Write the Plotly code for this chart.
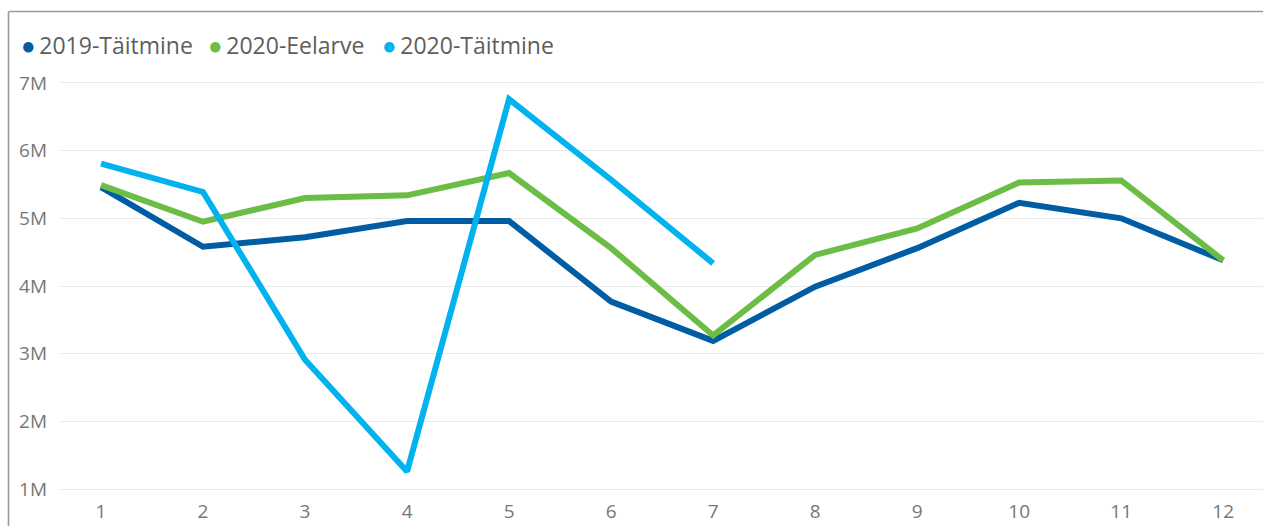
import plotly.graph_objects as go

months = list(range(1, 13))
month_labels = [str(m) for m in months]

series_names = ["2019-Täitmine", "2020-Eelarve", "2020-Täitmine"]
series_colors = ["#005DA3", "#6BBD45", "#00B2EE"]

v2019_taitmine = [5.46e6, 4.58e6, 4.72e6, 4.96e6, 4.96e6, 3.77e6, 3.19e6, 3.99e6, 4.56e6, 5.23e6, 5.00e6, 4.38e6]
v2020_eelarve = [5.49e6, 4.95e6, 5.30e6, 5.34e6, 5.67e6, 4.56e6, 3.27e6, 4.46e6, 4.85e6, 5.53e6, 5.56e6, 4.38e6]
v2020_taitmine = [5.81e6, 5.39e6, 2.91e6, 1.26e6, 6.76e6, 5.57e6, 4.335e6]

series_values = [v2019_taitmine, v2020_eelarve, v2020_taitmine]

W, H = 1263, 526
# plot area in window pixels: x 60..1263, y 70..495
ML, MR, MT, MB = 60, 0, 70, 526 - 495
PW, PH = W - ML - MR, H - MT - MB

def px_x(px):
    return (px - ML) / PW

def px_y(py):
    return (H - MB - py) / PH

fig = go.Figure()
for name, color, vals in zip(series_names, series_colors, series_values):
    fig.add_trace(go.Scatter(
        x=months[:len(vals)], y=vals, name=name, mode="lines",
        line=dict(color=color, width=6), showlegend=False,
        hoverinfo="x+y+name",
    ))

# legend built as text (circle bullet + series name), one item per series
legend_font = "Open Sans, Segoe UI, sans-serif"
legend_x_px = [19, 206, 380]
for name, color, lx in zip(series_names, series_colors, legend_x_px):
    fig.add_annotation(
        x=px_x(lx), y=px_y(45), xref="paper", yref="paper",
        xanchor="left", yanchor="middle", showarrow=False,
        text=f"<span style='color:{color};font-size:24px'>●</span>\u2009{name}",
        font=dict(family=legend_font, size=23, color="#605E5C"),
    )

# outer frame (top and left edges visible)
x0, y0 = px_x(8.5), px_y(530)
y1 = px_y(11.5)
x1 = px_x(1264)
fig.add_shape(type="line", xref="paper", yref="paper",
              x0=x0, y0=y0, x1=x0, y1=y1,
              line=dict(color="#9A9A9A", width=1.6))
fig.add_shape(type="line", xref="paper", yref="paper",
              x0=x0, y0=y1, x1=x1, y1=y1,
              line=dict(color="#9A9A9A", width=1.6))

fig.update_layout(
    width=W, height=H, autosize=False,
    margin=dict(l=ML, r=MR, t=MT, b=MB, pad=0),
    paper_bgcolor="white", plot_bgcolor="white",
    font=dict(family="Open Sans, Segoe UI, sans-serif", size=19, color="#777777"),
    showlegend=False,
)
fig.update_xaxes(
    range=[0.598, 12.39], tickmode="array", tickvals=months, ticktext=month_labels,
    showgrid=False, zeroline=False, showline=False, ticks="",
    ticklabelstandoff=3,
)
fig.update_yaxes(
    range=[0.912e6, 7.192e6], tickmode="linear", tick0=1e6, dtick=1e6, tickformat="~s",
    showgrid=True, gridcolor="#EAEAEA", gridwidth=1, zeroline=False, showline=False, ticks="",
    ticklabelstandoff=12,
)

fig.write_html(
    "out.html",
    config={"displayModeBar": False},
    post_script="document.body.style.margin='0';document.body.style.overflow='hidden';",
)
